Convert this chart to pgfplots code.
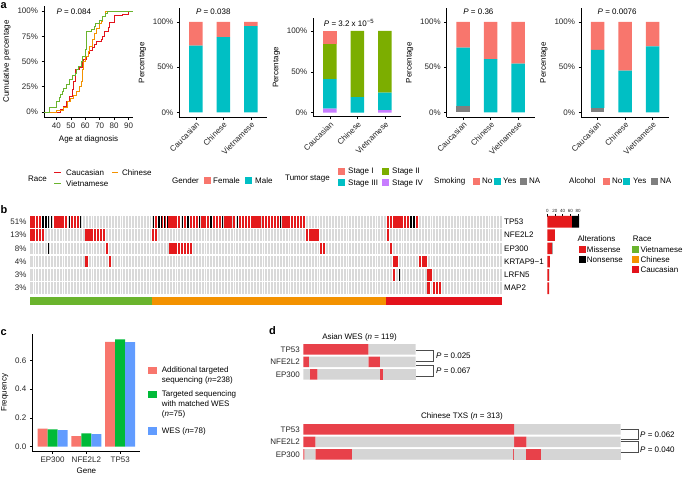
\documentclass[border=0pt]{standalone}
\usepackage{fontspec}
\setmainfont{Liberation Sans}
\usepackage{pgfplots}
\pgfplotsset{compat=1.18}

\definecolor{gpink}{HTML}{F8766D}
\definecolor{gteal}{HTML}{00BFC4}
\definecolor{ggreen}{HTML}{7CAE00}
\definecolor{gpurple}{HTML}{C77CFF}
\definecolor{gna}{HTML}{7F7F7F}
\definecolor{cgreen}{HTML}{00BA38}
\definecolor{cblue}{HTML}{619CFF}
\definecolor{racered}{HTML}{E3121B}
\definecolor{raceorange}{HTML}{F39200}
\definecolor{racegreen}{HTML}{6AB42D}
\definecolor{cellred}{HTML}{E41A1C}
\definecolor{cellgray}{HTML}{D9D9D9}
\definecolor{dred}{HTML}{E8414A}
\definecolor{dgray}{HTML}{D5D5D5}

% one oncoprint cell (missense) and the thinner nonsense bar
\pgfdeclareplotmark{mcell}{\pgfpathrectangle{\pgfqpoint{-1.1pt}{-5.85pt}}{\pgfqpoint{2.2pt}{11.7pt}}\pgfusepathqfill}
\pgfdeclareplotmark{ncell}{\pgfpathrectangle{\pgfqpoint{-0.6pt}{-5.85pt}}{\pgfqpoint{1.2pt}{11.7pt}}\pgfusepathqfill}

\pgfplotsset{
  every axis/.append style={scale only axis, anchor=south west,
    font=\fontsize{8}{9.6}\selectfont, /pgf/number format/assume math mode=true},
  every tick label/.append style={font=\fontsize{8}{9}\selectfont, text=black!85},
  aframe/.style={axis x line*=bottom, axis y line*=left,
    axis line style={-, line width=0.55pt}, tick align=outside,
    major tick length=2.5pt, tick style={black, line width=0.5pt}},
  abar/.style={aframe, width=88pt, ybar stacked, bar width=13.5pt,
    xmin=0.4, xmax=3.6, xtick={1,2,3}, xticklabels={Caucasian,Chinese,Vietnamese},
    xticklabel style={rotate=45, anchor=north east, inner sep=1pt},
    ytick={0,0.5,1}, yticklabels={0\%,50\%,100\%}, ylabel={Percentage}},
}

\newcommand{\lkey}[3]{\fill[#3] (#1pt-3.5pt,-#2pt-3.5pt) rectangle ++(7pt,7pt);}
\newcommand{\ltext}[3]{\node[lt] at (#1pt,-#2pt) {#3};}

\begin{document}
\begin{tikzpicture}[font=\fontsize{8}{9.6}\selectfont,
  lt/.style={anchor=west, inner sep=0pt, text height=5.8pt, text depth=0pt}]
\useasboundingbox (0pt,0pt) rectangle (685pt,-479pt);

% panel letters
\node[lt, font=\fontsize{11}{12}\selectfont\bfseries] at (0.5pt,-5.5pt) {a};
\node[lt, font=\fontsize{11}{12}\selectfont\bfseries] at (0.5pt,-211pt) {b};
\node[lt, font=\fontsize{11}{12}\selectfont\bfseries] at (0.5pt,-333pt) {c};
\node[lt, font=\fontsize{11}{12}\selectfont\bfseries] at (269pt,-332pt) {d};

% ---------- a: age at diagnosis ----------
\begin{axis}[aframe, at={(44pt,-117pt)}, width=89pt, height=111pt,
  xmin=31.5, xmax=93, ymin=-0.05, ymax=1.05,
  xtick={40,50,60,70,80,90}, ytick={0,0.25,0.5,0.75,1},
  yticklabels={0\%,25\%,50\%,75\%,100\%},
  xlabel={Age at diagnosis}, ylabel={Cumulative percentage}]
\addplot[const plot, racered, line width=0.8pt] coordinates {
  (31.5,0) (43,0.03) (45,0.06) (47,0.1) (49,0.15) (51,0.22) (52,0.3) (53,0.42)
  (56,0.44) (58,0.5) (59,0.52) (61,0.55) (62,0.58) (63,0.61) (65,0.64) (66,0.67)
  (68,0.7) (71,0.72) (72,0.75) (73,0.8) (76,0.84) (77,0.89) (80,0.96) (86,0.97)
  (90,1) (93,1)};
\addplot[const plot, raceorange, line width=0.8pt] coordinates {
  (31.5,0) (40,0.02) (45,0.05) (48,0.1) (50,0.13) (52,0.16) (54,0.2) (56,0.25)
  (57,0.3) (58,0.42) (59,0.5) (60,0.55) (62,0.6) (63,0.65) (65,0.72) (66,0.78)
  (68,0.83) (70,0.88) (71,0.9) (72,0.95) (74,1) (93,1)};
\addplot[const plot, racegreen, line width=0.8pt] coordinates {
  (31.5,0) (35,0.05) (40,0.1) (42,0.14) (43,0.17) (44,0.2) (45,0.23) (47,0.27)
  (49,0.32) (51,0.36) (53,0.38) (54,0.42) (55,0.45) (57,0.5) (58,0.55) (60,0.62)
  (61,0.8) (64,0.82) (66,0.85) (67,0.88) (70,0.91) (72,0.95) (74,0.98) (75,1) (93,1)};
\node[anchor=west, inner sep=0pt] at (axis cs:40,0.99) {\textit{P} = 0.084};
\end{axis}

% ---------- a: gender ----------
\begin{axis}[abar, at={(179.3pt,-117.3pt)}, height=109pt, ymin=-0.055, ymax=1.15]
\addplot[fill=gteal, draw=none] coordinates {(1,0.737) (2,0.83) (3,0.952)};
\addplot[fill=gpink, draw=none] coordinates {(1,0.263) (2,0.17) (3,0.048)};
\node[anchor=west, inner sep=0pt] at (axis cs:1,1.11) {\textit{P} = 0.038};
\end{axis}

% ---------- a: tumor stage ----------
\begin{axis}[abar, at={(313.3pt,-116.7pt)}, height=98.4pt, ymin=-0.049, ymax=1.155]
\addplot[fill=gpurple, draw=none] coordinates {(1,0.05) (2,0) (3,0.03)};
\addplot[fill=gteal, draw=none] coordinates {(1,0.36) (2,0.19) (3,0.215)};
\addplot[fill=ggreen, draw=none] coordinates {(1,0.43) (2,0.81) (3,0.755)};
\addplot[fill=gpink, draw=none] coordinates {(1,0.16) (2,0) (3,0)};
\node[anchor=west, inner sep=0pt] at (axis cs:0.78,1.094) {\textit{P} = 3.2 x 10\textsuperscript{−5}};
\end{axis}

% ---------- a: smoking ----------
\begin{axis}[abar, at={(446.7pt,-117.3pt)}, height=109pt, ymin=-0.055, ymax=1.15]
\addplot[fill=gna, draw=none] coordinates {(1,0.07) (2,0) (3,0)};
\addplot[fill=gteal, draw=none] coordinates {(1,0.645) (2,0.587) (3,0.538)};
\addplot[fill=gpink, draw=none] coordinates {(1,0.285) (2,0.413) (3,0.462)};
\node[anchor=west, inner sep=0pt] at (axis cs:1,1.11) {\textit{P} = 0.36};
\end{axis}

% ---------- a: alcohol ----------
\begin{axis}[abar, at={(581pt,-117.3pt)}, height=109pt, ymin=-0.055, ymax=1.15]
\addplot[fill=gna, draw=none] coordinates {(1,0.05) (2,0) (3,0)};
\addplot[fill=gteal, draw=none] coordinates {(1,0.64) (2,0.46) (3,0.73)};
\addplot[fill=gpink, draw=none] coordinates {(1,0.31) (2,0.54) (3,0.27)};
\node[anchor=west, inner sep=0pt] at (axis cs:1,1.11) {\textit{P} = 0.0076};
\end{axis}

% legends of panel a
\ltext{28}{178.3}{Race}
\draw[racered, line width=0.9pt] (54pt,-172.3pt) -- (61pt,-172.3pt);
\ltext{66}{172.3}{Caucasian}
\draw[raceorange, line width=0.9pt] (112pt,-172.3pt) -- (118pt,-172.3pt);
\ltext{122}{172.3}{Chinese}
\draw[racegreen, line width=0.9pt] (54pt,-183.5pt) -- (61pt,-183.5pt);
\ltext{66}{183.5}{Vietnamese}
\ltext{172}{180.7}{Gender}
\lkey{207.5}{180.7}{gpink}\ltext{213}{180.7}{Female}
\lkey{248.5}{180.7}{gteal}\ltext{255}{180.7}{Male}
\ltext{285}{177.3}{Tumor stage}
\lkey{341.5}{171}{gpink}\ltext{348}{171}{Stage I}
\lkey{385.5}{171}{ggreen}\ltext{392}{171}{Stage II}
\lkey{341.5}{182.5}{gteal}\ltext{348}{182.5}{Stage III}
\lkey{385.5}{182.5}{gpurple}\ltext{392}{182.5}{Stage IV}
\ltext{434}{181}{Smoking}
\lkey{476.5}{181}{gpink}\ltext{482}{181}{No}
\lkey{497.5}{181}{gteal}\ltext{503}{181}{Yes}
\lkey{523.5}{181}{gna}\ltext{529}{181}{NA}
\ltext{569}{181}{Alcohol}
\lkey{606.5}{181}{gpink}\ltext{612}{181}{No}
\lkey{626.5}{181}{gteal}\ltext{633}{181}{Yes}
\lkey{654.5}{181}{gna}\ltext{660}{181}{NA}

% ---------- b: oncoprint ----------
\begin{axis}[at={(30pt,-294pt)}, width=472.3pt, height=78pt,
  xmin=0, xmax=163, ymin=0, ymax=5.88, y dir=reverse,
  axis background/.style={fill=cellgray},
  axis line style={draw=none}, major tick length=0pt, minor tick length=0pt,
  xtick={1,2,...,162}, xticklabels={}, xticklabel style={inner sep=0pt},
  xmajorgrids, major grid style={white, line width=0.6pt},
  ytick={0.44,1.44,2.44,3.44,4.44,5.44}, yticklabels={51\%,13\%,8\%,4\%,3\%,3\%},
  minor ytick={0.94,1.94,2.94,3.94,4.94}, yminorgrids,
  minor grid style={white, line width=1.56pt}, clip=false]
% missense
\addplot[only marks, mark=mcell, color=cellred] coordinates {
  (0.5,0.44) (1.5,0.44) (2.5,0.44) (3.5,0.44) (8.5,0.44) (9.5,0.44) (10.5,0.44)
  (11.5,0.44) (12.5,0.44) (14.5,0.44) (15.5,0.44) (16.5,0.44) (43.5,0.44)
  (44.5,0.44) (45.5,0.44) (46.5,0.44) (47.5,0.44) (48.5,0.44) (49.5,0.44)
  (50.5,0.44) (51.5,0.44) (53.5,0.44) (55.5,0.44) (56.5,0.44) (57.5,0.44)
  (59.5,0.44) (60.5,0.44) (61.5,0.44) (63.5,0.44) (64.5,0.44) (65.5,0.44)
  (67.5,0.44) (68.5,0.44) (69.5,0.44) (70.5,0.44) (72.5,0.44) (73.5,0.44)
  (74.5,0.44) (75.5,0.44) (76.5,0.44) (77.5,0.44) (78.5,0.44) (79.5,0.44)
  (80.5,0.44) (81.5,0.44) (82.5,0.44) (83.5,0.44) (84.5,0.44) (85.5,0.44)
  (87.5,0.44) (88.5,0.44) (89.5,0.44) (90.5,0.44) (91.5,0.44) (92.5,0.44)
  (93.5,0.44) (94.5,0.44) (123.5,0.44) (124.5,0.44) (125.5,0.44) (126.5,0.44)
  (127.5,0.44) (128.5,0.44) (129.5,0.44) (130.5,0.44) (133.5,0.44)
  (0.5,1.44) (1.5,1.44) (2.5,1.44) (3.5,1.44) (4.5,1.44) (19.5,1.44) (20.5,1.44)
  (21.5,1.44) (22.5,1.44) (23.5,1.44) (24.5,1.44) (25.5,1.44) (42.5,1.44)
  (43.5,1.44) (95.5,1.44) (96.5,1.44) (97.5,1.44) (98.5,1.44) (99.5,1.44)
  (123.5,1.44)
  (26.5,2.44) (48.5,2.44) (49.5,2.44) (50.5,2.44) (51.5,2.44) (52.5,2.44)
  (53.5,2.44) (54.5,2.44) (55.5,2.44) (100.5,2.44) (101.5,2.44) (124.5,2.44)
  (19.5,3.44) (27.5,3.44) (125.5,3.44) (126.5,3.44) (134.5,3.44) (135.5,3.44)
  (136.5,3.44)
  (125.5,4.44) (137.5,4.44) (138.5,4.44)
  (137.5,5.44) (139.5,5.44) (140.5,5.44) (141.5,5.44)};
% nonsense
\addplot[only marks, mark=ncell, color=black] coordinates {
  (4.5,0.44) (5.5,0.44) (6.5,0.44) (7.5,0.44) (13.5,0.44) (17.5,0.44) (42.5,0.44)
  (44.5,0.44) (45.5,0.44) (46.5,0.44) (47.5,0.44) (52.5,0.44) (54.5,0.44)
  (58.5,0.44) (62.5,0.44) (66.5,0.44) (71.5,0.44) (86.5,0.44) (131.5,0.44)
  (132.5,0.44)
  (6.5,2.44) (127.5,4.44)};
\node[anchor=west, inner sep=0pt, xshift=1.7pt] at (axis cs:163,0.44) {TP53};
\node[anchor=west, inner sep=0pt, xshift=1.7pt] at (axis cs:163,1.44) {NFE2L2};
\node[anchor=west, inner sep=0pt, xshift=1.7pt] at (axis cs:163,2.44) {EP300};
\node[anchor=west, inner sep=0pt, xshift=1.7pt] at (axis cs:163,3.44) {KRTAP9−1};
\node[anchor=west, inner sep=0pt, xshift=1.7pt] at (axis cs:163,4.44) {LRFN5};
\node[anchor=west, inner sep=0pt, xshift=1.7pt] at (axis cs:163,5.44) {MAP2};
\end{axis}

% race annotation bar
\begin{axis}[at={(30pt,-305.3pt)}, width=472.3pt, height=8pt,
  xmin=0, xmax=163, ymin=0, ymax=1, hide axis, xbar stacked, bar width=8pt]
\addplot[fill=racegreen, draw=none] coordinates {(42,0.5)};
\addplot[fill=raceorange, draw=none] coordinates {(81,0.5)};
\addplot[fill=racered, draw=none] coordinates {(40,0.5)};
\end{axis}

% mutation counts
\begin{axis}[at={(547.3pt,-294pt)}, width=30.7pt, height=78pt,
  xmin=0, xmax=80, ymin=0, ymax=5.88, xbar stacked, bar width=11.7pt,
  axis x line*=top, axis y line=none, axis line style={-, line width=0.5pt},
  xtick={0,20,40,60,80}, ytick=\empty, tick align=outside,
  major tick length=1.8pt, tick style={black, line width=0.4pt},
  xticklabel style={font=\fontsize{4.5}{5}\selectfont, inner sep=1pt},
  clip=false]
\addplot[fill=cellred, draw=none] coordinates {(64,5.44) (20,4.44) (12,3.44) (7,2.44) (4,1.44) (5,0.44)};
\addplot[fill=black, draw=none] coordinates {(19,5.44) (0,4.44) (1,3.44) (0,2.44) (1,1.44) (0,0.44)};
\end{axis}

% legend of panel b
\ltext{577.3}{239}{Alterations}
\lkey{582}{249.2}{cellred}\ltext{586.7}{249.2}{Missense}
\lkey{582}{259.2}{black}\ltext{586.7}{259.2}{Nonsense}
\ltext{632.7}{239}{Race}
\lkey{635.5}{249.2}{racegreen}\ltext{640.3}{249.2}{Vietnamese}
\lkey{635.5}{259.2}{raceorange}\ltext{640.3}{259.2}{Chinese}
\lkey{635.5}{269.2}{racered}\ltext{640.3}{269.2}{Caucasian}

% ---------- c: frequencies ----------
\begin{axis}[aframe, at={(32.3pt,-451pt)}, width=108.2pt, height=116.6pt,
  ybar=0pt, bar width=10pt, xmin=0.4, xmax=3.6, ymin=-0.03, ymax=0.78,
  xtick={1,2,3}, xticklabels={EP300,NFE2L2,TP53},
  ytick={0,0.2,0.4,0.6}, yticklabels={0.0,0.2,0.4,0.6},
  xlabel={Gene}, ylabel={Frequency}, xlabel style={yshift=2pt}]
\addplot[fill=gpink, draw=none] coordinates {(1,0.125) (2,0.074) (3,0.729)};
\addplot[fill=cgreen, draw=none] coordinates {(1,0.12) (2,0.093) (3,0.746)};
\addplot[fill=cblue, draw=none] coordinates {(1,0.115) (2,0.088) (3,0.727)};
\end{axis}

\fill[gpink] (148.3pt,-367.3pt) rectangle (156.7pt,-374.3pt);
\ltext{161.7}{370}{Additional targeted}
\ltext{161.7}{380}{sequencing (\textit{n}=238)}
\fill[cgreen] (148.3pt,-391pt) rectangle (156.7pt,-398.3pt);
\ltext{161.7}{393.3}{Targeted sequencing}
\ltext{161.7}{403.3}{with matched WES}
\ltext{161.7}{413.5}{(\textit{n}=75)}
\fill[cblue] (148.3pt,-427.3pt) rectangle (156.7pt,-435pt);
\ltext{161.7}{430.7}{WES (\textit{n}=78)}

% ---------- d: Asian WES ----------
\begin{axis}[at={(303.3pt,-380.7pt)}, width=112.4pt, height=37.5pt,
  xbar stacked, bar width=10.5pt, xmin=0, xmax=119, ymin=-0.5, ymax=2.5,
  y dir=reverse, axis line style={draw=none}, xtick=\empty,
  ytick={0,1,2}, yticklabels={TP53,NFE2L2,EP300}, major tick length=0pt,
  clip=false]
\addplot[fill=dred, draw=none] coordinates {(69,0) (6,1) (0,2)};
\addplot[fill=dgray, draw=none] coordinates {(50,0) (63,1) (7,2)};
\addplot[fill=dred, draw=none] coordinates {(0,0) (12,1) (8,2)};
\addplot[fill=dgray, draw=none] coordinates {(0,0) (38,1) (66,2)};
\addplot[fill=dred, draw=none] coordinates {(0,0) (0,1) (3,2)};
\addplot[fill=dgray, draw=none] coordinates {(0,0) (0,1) (35,2)};
\end{axis}
\node[anchor=center] at (359.5pt,-337pt) {Asian WES (\textit{n} = 119)};
\draw[black!70, line width=0.4pt] (416pt,-350pt) -| (433.3pt,-360.7pt) -- (416pt,-360.7pt);
\draw[black!70, line width=0.4pt] (416pt,-365.3pt) -| (433.3pt,-376pt) -- (416pt,-376pt);
\ltext{436}{355.7}{\textit{P} = 0.025}
\ltext{436}{371}{\textit{P} = 0.067}

% ---------- d: Chinese TXS ----------
\begin{axis}[at={(303.3pt,-460.5pt)}, width=317.4pt, height=37.5pt,
  xbar stacked, bar width=10.5pt, xmin=0, xmax=313, ymin=-0.5, ymax=2.5,
  y dir=reverse, axis line style={draw=none}, xtick=\empty,
  ytick={0,1,2}, yticklabels={TP53,NFE2L2,EP300}, major tick length=0pt,
  clip=false]
\addplot[fill=dred, draw=none] coordinates {(208,0) (12,1) (1,2)};
\addplot[fill=dgray, draw=none] coordinates {(105,0) (196,1) (11,2)};
\addplot[fill=dred, draw=none] coordinates {(0,0) (12,1) (36,2)};
\addplot[fill=dgray, draw=none] coordinates {(0,0) (93,1) (159,2)};
\addplot[fill=dred, draw=none] coordinates {(0,0) (0,1) (1,2)};
\addplot[fill=dgray, draw=none] coordinates {(0,0) (0,1) (12,2)};
\addplot[fill=dred, draw=none] coordinates {(0,0) (0,1) (14,2)};
\addplot[fill=dgray, draw=none] coordinates {(0,0) (0,1) (79,2)};
\end{axis}
\node[anchor=center] at (462pt,-416pt) {Chinese TXS (\textit{n} = 313)};
\draw[black!70, line width=0.4pt] (620.7pt,-429pt) -| (638.3pt,-439.3pt) -- (620.7pt,-439.3pt);
\draw[black!70, line width=0.4pt] (620.7pt,-441.3pt) -| (638.3pt,-452pt) -- (620.7pt,-452pt);
\ltext{640}{434.7}{\textit{P} = 0.062}
\ltext{640}{450}{\textit{P} = 0.040}

\end{tikzpicture}
\end{document}
